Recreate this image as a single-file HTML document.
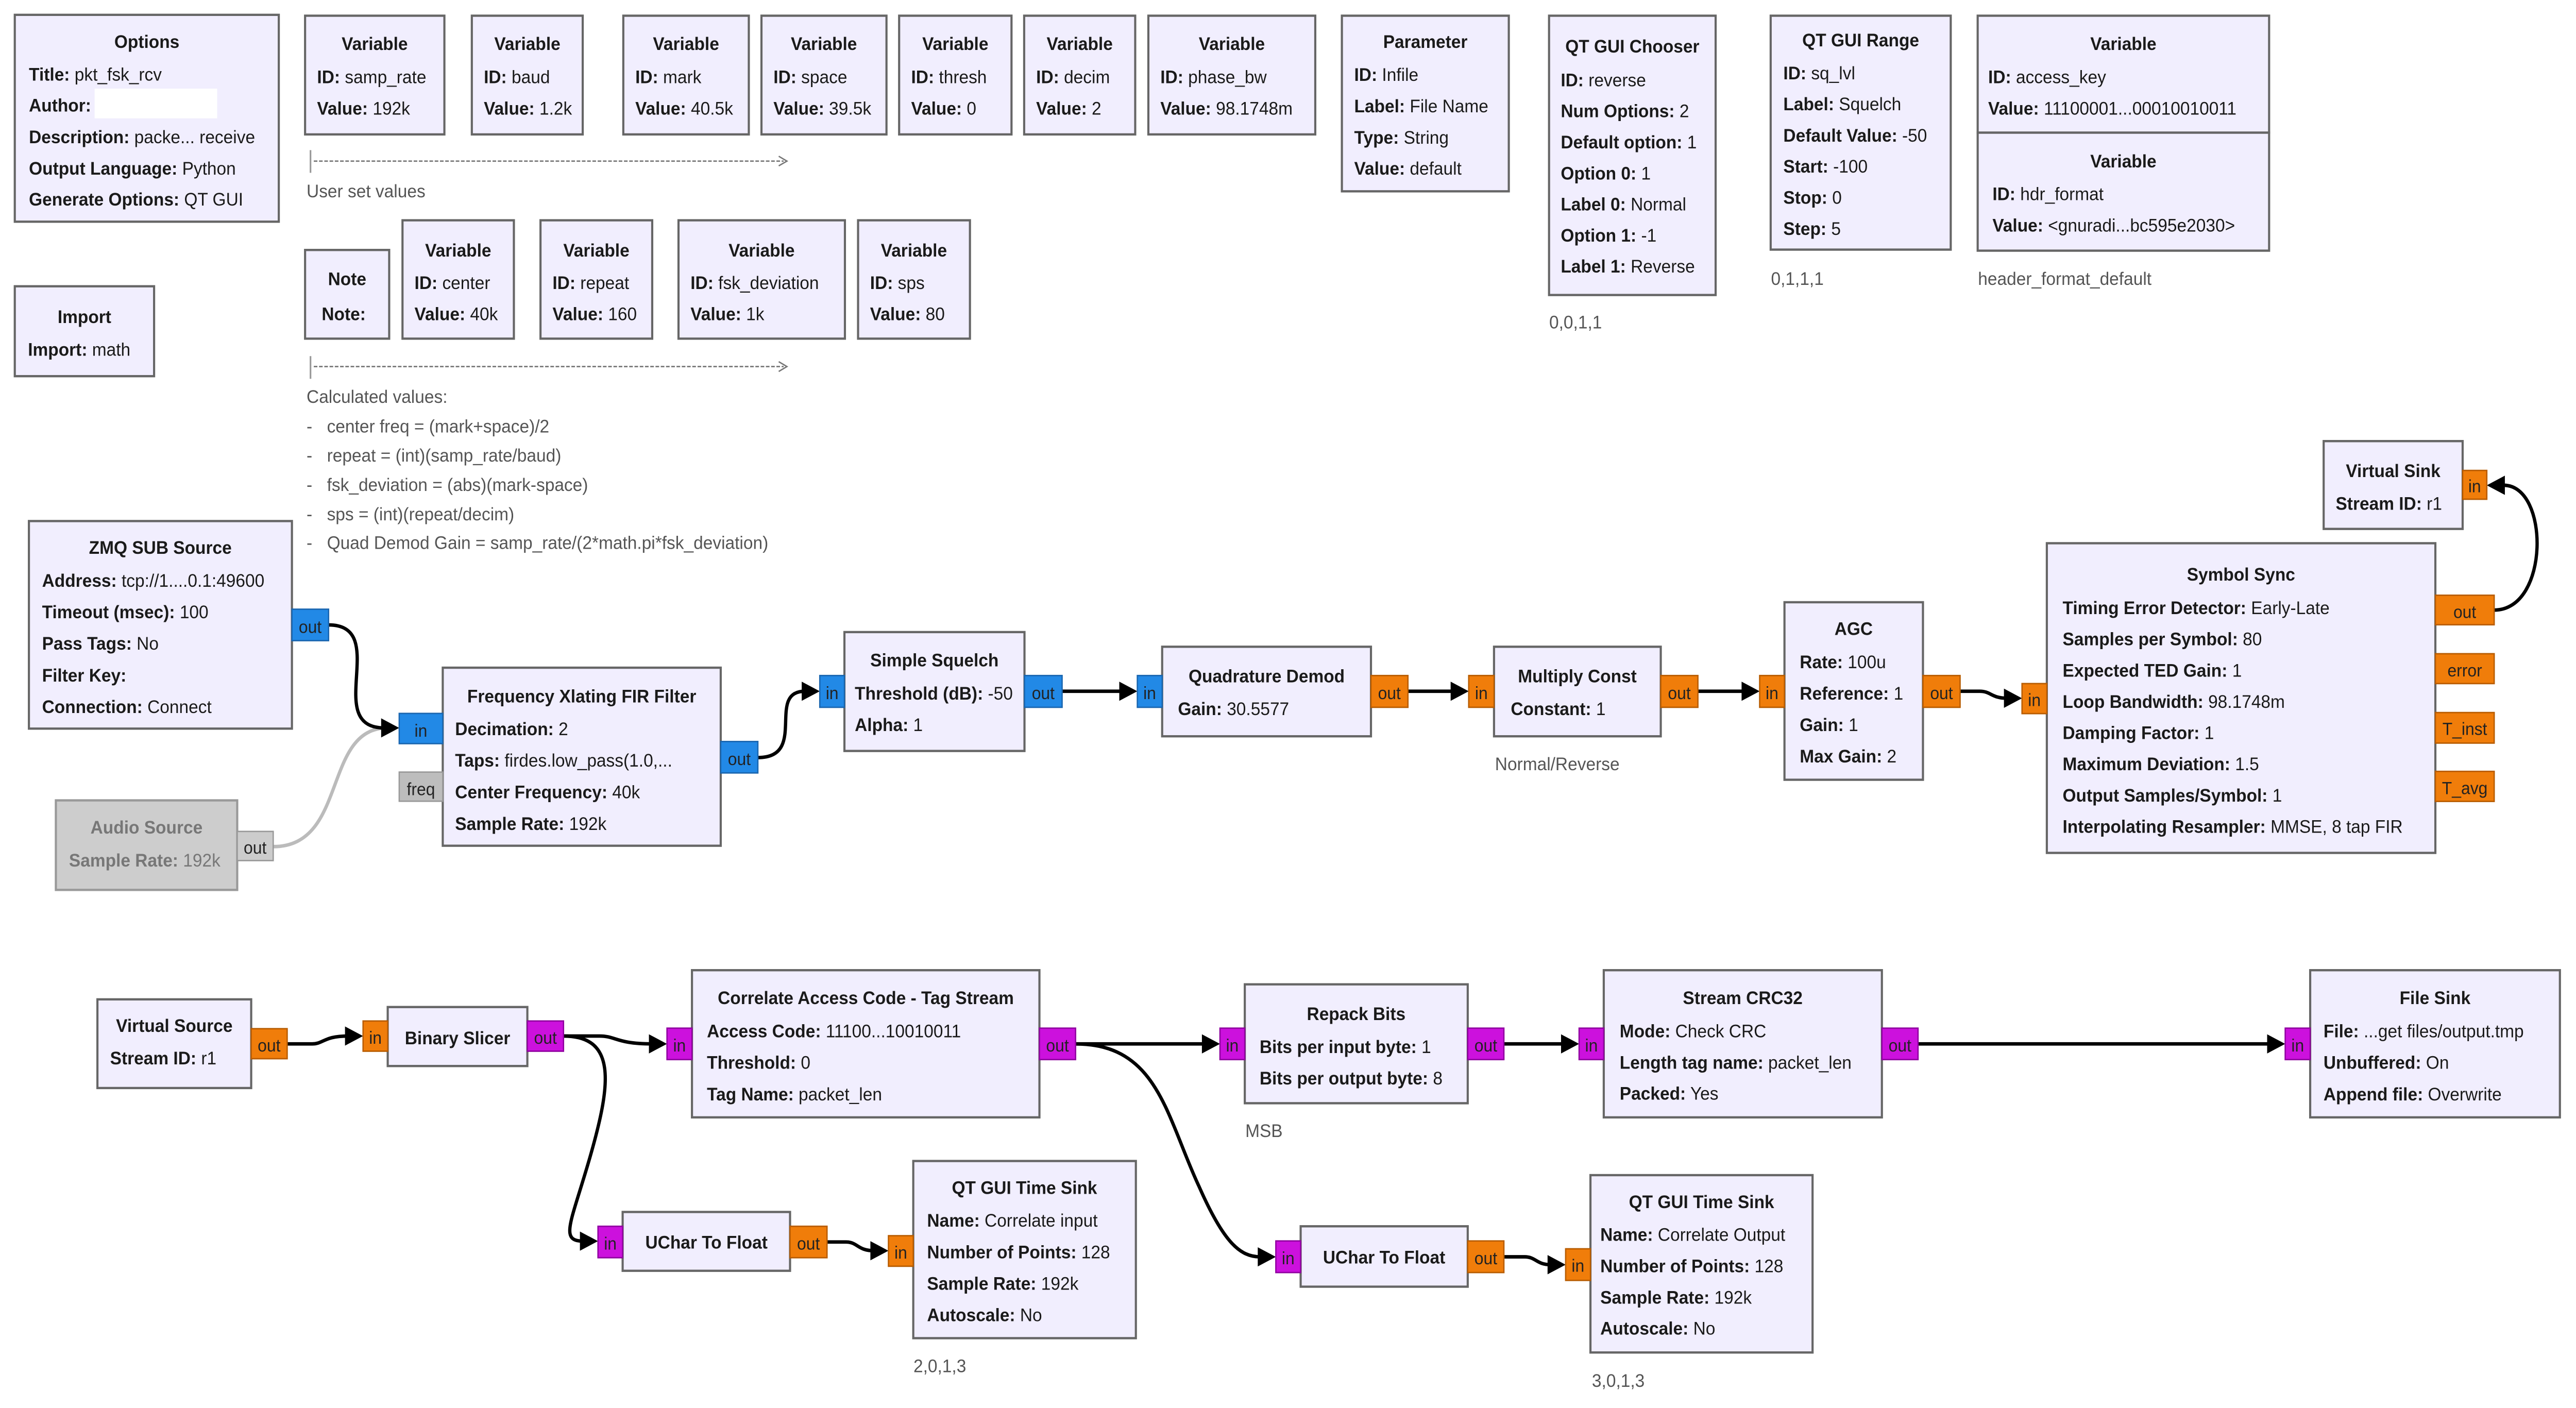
<!DOCTYPE html>
<html><head><meta charset="utf-8"><style>
html,body{margin:0;padding:0;background:#fff;width:100%;height:100%;overflow:hidden;}
svg{display:block;position:absolute;left:0;top:0;width:100vw;height:100vh;}
text{font-family:"Liberation Sans","DejaVu Sans",sans-serif;font-size:10.5px;fill:#1a1a1a;}
.ti{font-weight:bold;text-anchor:middle;}
.b{font-weight:bold;}
.blk{fill:#F1EEFE;stroke:#666;stroke-width:1.3;}
.dis{fill:#CDCDCD;stroke:#999;stroke-width:1.3;}
.g{fill:#777;}
.n{fill:#555;}
.pb{fill:#2289E6;stroke:#1a66b0;stroke-width:0.8;}
.po{fill:#F07D0A;stroke:#b85c00;stroke-width:0.8;}
.pm{fill:#CC11DD;stroke:#9000a0;stroke-width:0.8;}
.pg{fill:#BDBDBD;stroke:#999;stroke-width:0.8;}
.pl{font-size:10px;text-anchor:middle;fill:#222;}
.w{fill:none;stroke:#000;stroke-width:2;}
.wg{fill:none;stroke:#bbb;stroke-width:2;}
</style></head><body>
<svg viewBox="0 0 1568 806.6" preserveAspectRatio="none" xmlns="http://www.w3.org/2000/svg">
<rect x="0" y="0" width="1568" height="806.6" fill="#fff"/>

<!-- Options -->
<rect class="blk" x="9" y="8.5" width="160.7" height="118.5"/>
<text class="ti" x="89.4" y="27.5">Options</text>
<text x="17.6" y="46.2"><tspan class="b">Title:</tspan> pkt_fsk_rcv</text>
<text x="17.6" y="63.9"><tspan class="b">Author:</tspan></text>
<rect x="57.6" y="50.8" width="74.6" height="17" fill="#fff"/>
<text x="17.6" y="82.1"><tspan class="b">Description:</tspan> packe... receive</text>
<text x="17.6" y="100"><tspan class="b">Output Language:</tspan> Python</text>
<text x="17.6" y="117.7"><tspan class="b">Generate Options:</tspan> QT GUI</text>

<!-- Row1 variables -->
<rect class="blk" x="185.7" y="9" width="84.8" height="68"/>
<text class="ti" x="228.1" y="28.6">Variable</text>
<text x="193" y="47.6"><tspan class="b">ID:</tspan> samp_rate</text>
<text x="193" y="65.7"><tspan class="b">Value:</tspan> 192k</text>

<rect class="blk" x="287.2" y="9" width="67.5" height="68"/>
<text class="ti" x="321" y="28.6">Variable</text>
<text x="294.5" y="47.6"><tspan class="b">ID:</tspan> baud</text>
<text x="294.5" y="65.7"><tspan class="b">Value:</tspan> 1.2k</text>

<rect class="blk" x="379.4" y="9" width="76.4" height="68"/>
<text class="ti" x="417.6" y="28.6">Variable</text>
<text x="386.7" y="47.6"><tspan class="b">ID:</tspan> mark</text>
<text x="386.7" y="65.7"><tspan class="b">Value:</tspan> 40.5k</text>

<rect class="blk" x="463.5" y="9" width="76.1" height="68"/>
<text class="ti" x="501.5" y="28.6">Variable</text>
<text x="470.8" y="47.6"><tspan class="b">ID:</tspan> space</text>
<text x="470.8" y="65.7"><tspan class="b">Value:</tspan> 39.5k</text>

<rect class="blk" x="547.3" y="9" width="68.4" height="68"/>
<text class="ti" x="581.5" y="28.6">Variable</text>
<text x="554.6" y="47.6"><tspan class="b">ID:</tspan> thresh</text>
<text x="554.6" y="65.7"><tspan class="b">Value:</tspan> 0</text>

<rect class="blk" x="623.4" y="9" width="67.6" height="68"/>
<text class="ti" x="657.2" y="28.6">Variable</text>
<text x="630.7" y="47.6"><tspan class="b">ID:</tspan> decim</text>
<text x="630.7" y="65.7"><tspan class="b">Value:</tspan> 2</text>

<rect class="blk" x="699" y="9" width="101.6" height="68"/>
<text class="ti" x="749.8" y="28.6">Variable</text>
<text x="706.3" y="47.6"><tspan class="b">ID:</tspan> phase_bw</text>
<text x="706.3" y="65.7"><tspan class="b">Value:</tspan> 98.1748m</text>

<!-- Parameter -->
<rect class="blk" x="816.8" y="9" width="101.6" height="100.6"/>
<text class="ti" x="867.6" y="27.5">Parameter</text>
<text x="824.3" y="46.3"><tspan class="b">ID:</tspan> Infile</text>
<text x="824.3" y="64.4"><tspan class="b">Label:</tspan> File Name</text>
<text x="824.3" y="82.4"><tspan class="b">Type:</tspan> String</text>
<text x="824.3" y="100"><tspan class="b">Value:</tspan> default</text>

<!-- QT GUI Chooser -->
<rect class="blk" x="942.9" y="9" width="101.4" height="160"/>
<text class="ti" x="993.6" y="30.1">QT GUI Chooser</text>
<text x="950" y="49.4"><tspan class="b">ID:</tspan> reverse</text>
<text x="950" y="67.2"><tspan class="b">Num Options:</tspan> 2</text>
<text x="950" y="85"><tspan class="b">Default option:</tspan> 1</text>
<text x="950" y="102.8"><tspan class="b">Option 0:</tspan> 1</text>
<text x="950" y="120.6"><tspan class="b">Label 0:</tspan> Normal</text>
<text x="950" y="138.4"><tspan class="b">Option 1:</tspan> -1</text>
<text x="950" y="156.2"><tspan class="b">Label 1:</tspan> Reverse</text>
<text class="n" x="943" y="188.2">0,0,1,1</text>

<!-- QT GUI Range -->
<rect class="blk" x="1077.8" y="9" width="109.6" height="134"/>
<text class="ti" x="1132.6" y="26.5">QT GUI Range</text>
<text x="1085.5" y="45.4"><tspan class="b">ID:</tspan> sq_lvl</text>
<text x="1085.5" y="63.2"><tspan class="b">Label:</tspan> Squelch</text>
<text x="1085.5" y="81.1"><tspan class="b">Default Value:</tspan> -50</text>
<text x="1085.5" y="98.9"><tspan class="b">Start:</tspan> -100</text>
<text x="1085.5" y="116.7"><tspan class="b">Stop:</tspan> 0</text>
<text x="1085.5" y="134.6"><tspan class="b">Step:</tspan> 5</text>
<text class="n" x="1078" y="163.2">0,1,1,1</text>

<!-- access_key / hdr_format -->
<rect class="blk" x="1203.8" y="9" width="177.4" height="67"/>
<text class="ti" x="1292.5" y="28.6">Variable</text>
<text x="1210.2" y="47.6"><tspan class="b">ID:</tspan> access_key</text>
<text x="1210.2" y="65.7"><tspan class="b">Value:</tspan> 11100001...00010010011</text>
<rect class="blk" x="1203.8" y="76" width="177.4" height="67.6"/>
<text class="ti" x="1292.5" y="95.9">Variable</text>
<text x="1212.8" y="114.7"><tspan class="b">ID:</tspan> hdr_format</text>
<text x="1212.8" y="132.7"><tspan class="b">Value:</tspan> &lt;gnuradi...bc595e2030&gt;</text>
<text class="n" x="1204" y="163.2">header_format_default</text>

<!-- dashed arrows & notes -->
<line x1="189" y1="86" x2="189" y2="99" stroke="#999" stroke-width="1"/>
<line x1="191" y1="92.3" x2="477" y2="92.3" stroke="#777" stroke-width="0.8" stroke-dasharray="2.2,1"/>
<polyline points="474,89.5 479,92.3 474,95" fill="none" stroke="#777" stroke-width="0.8"/>
<text class="n" x="186.6" y="113.1">User set values</text>

<line x1="189" y1="204" x2="189" y2="217" stroke="#999" stroke-width="1"/>
<line x1="191" y1="210" x2="477" y2="210" stroke="#777" stroke-width="0.8" stroke-dasharray="2.2,1"/>
<polyline points="474,207.2 479,210 474,212.8" fill="none" stroke="#777" stroke-width="0.8"/>
<text class="n" x="186.6" y="230.8">Calculated values:</text>
<text class="n" x="186.6" y="247.8">-</text><text class="n" x="199" y="247.8">center freq = (mark+space)/2</text>
<text class="n" x="186.6" y="264.5">-</text><text class="n" x="199" y="264.5">repeat = (int)(samp_rate/baud)</text>
<text class="n" x="186.6" y="281.3">-</text><text class="n" x="199" y="281.3">fsk_deviation = (abs)(mark-space)</text>
<text class="n" x="186.6" y="298.1">-</text><text class="n" x="199" y="298.1">sps = (int)(repeat/decim)</text>
<text class="n" x="186.6" y="314.5">-</text><text class="n" x="199" y="314.5">Quad Demod Gain = samp_rate/(2*math.pi*fsk_deviation)</text>

<!-- Note -->
<rect class="blk" x="185.7" y="143.2" width="51.2" height="50.8"/>
<text class="ti" x="211.3" y="163.3">Note</text>
<text class="b" x="195.8" y="183.4">Note:</text>

<!-- Row2 variables -->
<rect class="blk" x="245" y="126.2" width="67.8" height="67.8"/>
<text class="ti" x="278.9" y="147">Variable</text>
<text x="252.3" y="165.6"><tspan class="b">ID:</tspan> center</text>
<text x="252.3" y="183.4"><tspan class="b">Value:</tspan> 40k</text>

<rect class="blk" x="329" y="126.2" width="68" height="67.8"/>
<text class="ti" x="363" y="147">Variable</text>
<text x="336.3" y="165.6"><tspan class="b">ID:</tspan> repeat</text>
<text x="336.3" y="183.4"><tspan class="b">Value:</tspan> 160</text>

<rect class="blk" x="413" y="126.2" width="101.3" height="67.8"/>
<text class="ti" x="463.6" y="147">Variable</text>
<text x="420.3" y="165.6"><tspan class="b">ID:</tspan> fsk_deviation</text>
<text x="420.3" y="183.4"><tspan class="b">Value:</tspan> 1k</text>

<rect class="blk" x="522.3" y="126.2" width="68.1" height="67.8"/>
<text class="ti" x="556.3" y="147">Variable</text>
<text x="529.6" y="165.6"><tspan class="b">ID:</tspan> sps</text>
<text x="529.6" y="183.4"><tspan class="b">Value:</tspan> 80</text>

<!-- Import -->
<rect class="blk" x="9" y="164" width="84.8" height="51.5"/>
<text class="ti" x="51.4" y="185.1">Import</text>
<text x="17" y="203.8"><tspan class="b">Import:</tspan> math</text>

<!-- ===== WIRES ===== -->
<path class="wg" d="M166.3,485 C 212,485 196,417 236,417"/>
<path class="w" d="M200,358 C 238,358 196,417 234,417"/>
<path class="w" d="M461.3,434 C 492,434 466,396 490,396"/>
<path class="w" d="M646.5,396 L 683,396"/>
<path class="w" d="M857,396 L 885,396"/>
<path class="w" d="M1033.5,396 L 1062,396"/>
<path class="w" d="M1193.1,396 L 1205,396 C 1212,396 1212,400 1222,400"/>
<path class="w" d="M1518.2,349.5 C 1552,349.5 1552,278 1524,278"/>
<path class="w" d="M174.8,598 L 190,598 C 197,598 197,593.5 212,593.5"/>
<path class="w" d="M343,593.5 L 365,593.5 C 375,593.5 375,598 397,598"/>
<path class="w" d="M343,593.5 C 375,593.5 372,620 360,660 C 348,700 340,711 355,711"/>
<path class="w" d="M654.7,598 L 733,598"/>
<path class="w" d="M654.7,598 C 705,598 710,640 730,680 C 745,712 755,720 767,720"/>
<path class="w" d="M915.4,598 L 952,598"/>
<path class="w" d="M1167.5,598 L 1382,598"/>
<path class="w" d="M503.4,711.5 L 515,711.5 C 522,711.5 522,716.5 532,716.5"/>
<path class="w" d="M915,720 L 928,720 C 935,720 935,724.5 944,724.5"/>
<!-- arrowheads -->
<g fill="#000">
<polygon points="243,417 232,411.5 232,422.5"/>
<polygon points="499,396 488,390.5 488,401.5"/>
<polygon points="692.3,396 681.3,390.5 681.3,401.5"/>
<polygon points="894,396 883,390.5 883,401.5"/>
<polygon points="1071.1,396 1060.1,390.5 1060.1,401.5"/>
<polygon points="1230.8,400 1219.8,394.5 1219.8,405.5"/>
<polygon points="1513.7,278 1524.7,272.5 1524.7,283.5"/>
<polygon points="221,593.5 210,588 210,599"/>
<polygon points="406,598 395,592.5 395,603.5"/>
<polygon points="364,711 353,705.5 353,716.5"/>
<polygon points="742.6,598 731.6,592.5 731.6,603.5"/>
<polygon points="776.6,720 765.6,714.5 765.6,725.5"/>
<polygon points="961.2,598 950.2,592.5 950.2,603.5"/>
<polygon points="1391,598 1380,592.5 1380,603.5"/>
<polygon points="540.8,716.5 529.8,711 529.8,722"/>
<polygon points="953,724.5 942,719 942,730"/>
</g>

<!-- ZMQ SUB Source -->
<rect class="blk" x="17.6" y="298.5" width="160.1" height="118.9"/>
<text class="ti" x="97.6" y="317.3">ZMQ SUB Source</text>
<text x="25.6" y="336.2"><tspan class="b">Address:</tspan> tcp://1....0.1:49600</text>
<text x="25.6" y="354.2"><tspan class="b">Timeout (msec):</tspan> 100</text>
<text x="25.6" y="372.2"><tspan class="b">Pass Tags:</tspan> No</text>
<text x="25.6" y="390.4"><tspan class="b">Filter Key:</tspan></text>
<text x="25.6" y="408.4"><tspan class="b">Connection:</tspan> Connect</text>
<rect class="pb" x="177.7" y="349" width="22.3" height="18"/>
<text class="pl" x="188.8" y="362.5">out</text>

<!-- Frequency Xlating FIR Filter -->
<rect class="blk" x="269.5" y="382.5" width="169.2" height="102"/>
<text class="ti" x="354.1" y="402.4">Frequency Xlating FIR Filter</text>
<text x="277" y="421.2"><tspan class="b">Decimation:</tspan> 2</text>
<text x="277" y="439.2"><tspan class="b">Taps:</tspan> firdes.low_pass(1.0,...</text>
<text x="277" y="457.3"><tspan class="b">Center Frequency:</tspan> 40k</text>
<text x="277" y="475.4"><tspan class="b">Sample Rate:</tspan> 192k</text>
<rect class="pb" x="243" y="408.7" width="26.5" height="17.3"/>
<text class="pl" x="256.2" y="422">in</text>
<rect class="pg" x="243" y="442.3" width="26.5" height="16.7"/>
<text class="pl" x="256.2" y="455.5">freq</text>
<rect class="pb" x="438.7" y="424.8" width="22.6" height="18"/>
<text class="pl" x="450" y="438.3">out</text>

<!-- Audio Source (disabled) -->
<rect class="dis" x="34" y="458.5" width="110.4" height="51.3"/>
<text class="ti g" x="89.2" y="477.5">Audio Source</text>
<text class="g" x="42" y="496.4"><tspan class="b">Sample Rate:</tspan> 192k</text>
<rect class="pg" x="144.4" y="476.3" width="21.9" height="16.7" style="fill:#ccc"/>
<text class="pl g" x="155.3" y="489">out</text>

<!-- Simple Squelch -->
<rect class="blk" x="514" y="362.1" width="109.6" height="68.1"/>
<text class="ti" x="568.8" y="381.8">Simple Squelch</text>
<text x="520.3" y="400.8"><tspan class="b">Threshold (dB):</tspan> -50</text>
<text x="520.3" y="418.8"><tspan class="b">Alpha:</tspan> 1</text>
<rect class="pb" x="499" y="387" width="15" height="18.2"/>
<text class="pl" x="506.5" y="400.5">in</text>
<rect class="pb" x="623.6" y="387" width="22.9" height="18.2"/>
<text class="pl" x="635" y="400.5">out</text>

<!-- Quadrature Demod -->
<rect class="blk" x="707.4" y="370.5" width="127.1" height="51.3"/>
<text class="ti" x="771" y="390.9">Quadrature Demod</text>
<text x="717" y="409.6"><tspan class="b">Gain:</tspan> 30.5577</text>
<rect class="pb" x="692.3" y="387" width="15.1" height="18.2"/>
<text class="pl" x="699.8" y="400.5">in</text>
<rect class="po" x="834.5" y="387" width="22.5" height="18.2"/>
<text class="pl" x="845.7" y="400.5">out</text>

<!-- Multiply Const -->
<rect class="blk" x="909.4" y="370.5" width="101.5" height="51.3"/>
<text class="ti" x="960.1" y="390.9">Multiply Const</text>
<text x="919.6" y="409.6"><tspan class="b">Constant:</tspan> 1</text>
<rect class="po" x="894" y="387" width="15.4" height="18.2"/>
<text class="pl" x="901.7" y="400.5">in</text>
<rect class="po" x="1010.9" y="387" width="22.6" height="18.2"/>
<text class="pl" x="1022.2" y="400.5">out</text>
<text class="n" x="910" y="441.2">Normal/Reverse</text>

<!-- AGC -->
<rect class="blk" x="1086.2" y="345" width="84.3" height="101.7"/>
<text class="ti" x="1128.3" y="363.8">AGC</text>
<text x="1095.5" y="382.8"><tspan class="b">Rate:</tspan> 100u</text>
<text x="1095.5" y="400.8"><tspan class="b">Reference:</tspan> 1</text>
<text x="1095.5" y="418.8"><tspan class="b">Gain:</tspan> 1</text>
<text x="1095.5" y="436.8"><tspan class="b">Max Gain:</tspan> 2</text>
<rect class="po" x="1071.1" y="387" width="15.1" height="18.2"/>
<text class="pl" x="1078.6" y="400.5">in</text>
<rect class="po" x="1170.5" y="387" width="22.6" height="18.2"/>
<text class="pl" x="1181.8" y="400.5">out</text>

<!-- Symbol Sync -->
<rect class="blk" x="1245.9" y="311.2" width="236.5" height="177.4"/>
<text class="ti" x="1364.1" y="332.6">Symbol Sync</text>
<text x="1255.5" y="351.8"><tspan class="b">Timing Error Detector:</tspan> Early-Late</text>
<text x="1255.5" y="369.7"><tspan class="b">Samples per Symbol:</tspan> 80</text>
<text x="1255.5" y="387.6"><tspan class="b">Expected TED Gain:</tspan> 1</text>
<text x="1255.5" y="405.5"><tspan class="b">Loop Bandwidth:</tspan> 98.1748m</text>
<text x="1255.5" y="423.4"><tspan class="b">Damping Factor:</tspan> 1</text>
<text x="1255.5" y="441.3"><tspan class="b">Maximum Deviation:</tspan> 1.5</text>
<text x="1255.5" y="459.2"><tspan class="b">Output Samples/Symbol:</tspan> 1</text>
<text x="1255.5" y="477.1"><tspan class="b">Interpolating Resampler:</tspan> MMSE, 8 tap FIR</text>
<rect class="po" x="1230.8" y="391.6" width="15.1" height="17.2"/>
<text class="pl" x="1238.3" y="404.5">in</text>
<rect class="po" x="1482.4" y="341" width="35.8" height="16.9"/>
<text class="pl" x="1500.3" y="354">out</text>
<rect class="po" x="1482.4" y="374.5" width="35.8" height="17.1"/>
<text class="pl" x="1500.3" y="387.5">error</text>
<rect class="po" x="1482.4" y="408.2" width="35.8" height="17.5"/>
<text class="pl" x="1500.3" y="421">T_inst</text>
<rect class="po" x="1482.4" y="441.9" width="35.8" height="17.2"/>
<text class="pl" x="1500.3" y="455">T_avg</text>

<!-- Virtual Sink -->
<rect class="blk" x="1414.4" y="252.7" width="84.6" height="50.3"/>
<text class="ti" x="1456.7" y="273.3">Virtual Sink</text>
<text x="1421.7" y="292.1"><tspan class="b">Stream ID:</tspan> r1</text>
<rect class="po" x="1499" y="269.5" width="14.7" height="16.5"/>
<text class="pl" x="1506.3" y="282">in</text>

<!-- Virtual Source -->
<rect class="blk" x="59.3" y="572.5" width="93.6" height="50.8"/>
<text class="ti" x="106.1" y="591.1">Virtual Source</text>
<text x="67" y="609.8"><tspan class="b">Stream ID:</tspan> r1</text>
<rect class="po" x="152.9" y="589.3" width="21.9" height="17.2"/>
<text class="pl" x="163.8" y="602.3">out</text>

<!-- Binary Slicer -->
<rect class="blk" x="236" y="576.9" width="85" height="33.8"/>
<text class="ti" x="278.5" y="598.2">Binary Slicer</text>
<rect class="po" x="221" y="584.9" width="15" height="17.3"/>
<text class="pl" x="228.5" y="598">in</text>
<rect class="pm" x="321" y="584.9" width="22" height="17.3"/>
<text class="pl" x="332" y="598">out</text>

<!-- Correlate Access Code -->
<rect class="blk" x="421.2" y="555.8" width="211.5" height="84.3"/>
<text class="ti" x="527" y="575.2">Correlate Access Code - Tag Stream</text>
<text x="430.3" y="594.2"><tspan class="b">Access Code:</tspan> 11100...10010011</text>
<text x="430.3" y="612.3"><tspan class="b">Threshold:</tspan> 0</text>
<text x="430.3" y="630.4"><tspan class="b">Tag Name:</tspan> packet_len</text>
<rect class="pm" x="406" y="589" width="15.2" height="18"/>
<text class="pl" x="413.6" y="602.3">in</text>
<rect class="pm" x="632.7" y="589" width="22" height="18"/>
<text class="pl" x="643.7" y="602.3">out</text>

<!-- Repack Bits -->
<rect class="blk" x="757.7" y="563.9" width="135.7" height="68.1"/>
<text class="ti" x="825.5" y="584.3">Repack Bits</text>
<text x="766.7" y="603.3"><tspan class="b">Bits per input byte:</tspan> 1</text>
<text x="766.7" y="621.3"><tspan class="b">Bits per output byte:</tspan> 8</text>
<rect class="pm" x="742.6" y="589" width="15.1" height="18"/>
<text class="pl" x="750.1" y="602.3">in</text>
<rect class="pm" x="893.4" y="589" width="22" height="18"/>
<text class="pl" x="904.4" y="602.3">out</text>
<text class="n" x="758" y="651.4">MSB</text>

<!-- Stream CRC32 -->
<rect class="blk" x="976.2" y="555.8" width="169.3" height="84.3"/>
<text class="ti" x="1060.8" y="575.2">Stream CRC32</text>
<text x="985.9" y="594.2"><tspan class="b">Mode:</tspan> Check CRC</text>
<text x="985.9" y="612.3"><tspan class="b">Length tag name:</tspan> packet_len</text>
<text x="985.9" y="630"><tspan class="b">Packed:</tspan> Yes</text>
<rect class="pm" x="961.2" y="589" width="15" height="18"/>
<text class="pl" x="968.7" y="602.3">in</text>
<rect class="pm" x="1145.5" y="589" width="22" height="18"/>
<text class="pl" x="1156.5" y="602.3">out</text>

<!-- File Sink -->
<rect class="blk" x="1406.2" y="555.8" width="152" height="84.3"/>
<text class="ti" x="1482.2" y="575.2">File Sink</text>
<text x="1414.3" y="594.2"><tspan class="b">File:</tspan> ...get files/output.tmp</text>
<text x="1414.3" y="612.3"><tspan class="b">Unbuffered:</tspan> On</text>
<text x="1414.3" y="630.4"><tspan class="b">Append file:</tspan> Overwrite</text>
<rect class="pm" x="1391" y="589" width="15.2" height="18"/>
<text class="pl" x="1398.6" y="602.3">in</text>

<!-- UChar To Float 1 -->
<rect class="blk" x="379" y="694.3" width="101.9" height="33.7"/>
<text class="ti" x="430" y="715.3">UChar To Float</text>
<rect class="pm" x="364" y="702.5" width="15" height="18"/>
<text class="pl" x="371.5" y="715.8">in</text>
<rect class="po" x="480.9" y="702.5" width="22.5" height="18"/>
<text class="pl" x="492.1" y="715.8">out</text>

<!-- QT GUI Time Sink 1 -->
<rect class="blk" x="555.9" y="665.1" width="135.5" height="101.5"/>
<text class="ti" x="623.6" y="684">QT GUI Time Sink</text>
<text x="564.3" y="702.7"><tspan class="b">Name:</tspan> Correlate input</text>
<text x="564.3" y="720.8"><tspan class="b">Number of Points:</tspan> 128</text>
<text x="564.3" y="738.8"><tspan class="b">Sample Rate:</tspan> 192k</text>
<text x="564.3" y="756.8"><tspan class="b">Autoscale:</tspan> No</text>
<rect class="po" x="540.8" y="707.9" width="15.1" height="17.5"/>
<text class="pl" x="548.3" y="721">in</text>
<text class="n" x="556" y="786.1">2,0,1,3</text>

<!-- UChar To Float 2 -->
<rect class="blk" x="791.7" y="702.5" width="101.7" height="34.6"/>
<text class="ti" x="842.5" y="723.8">UChar To Float</text>
<rect class="pm" x="776.6" y="710.9" width="15.1" height="18.1"/>
<text class="pl" x="784.1" y="724.2">in</text>
<rect class="po" x="893.4" y="710.9" width="22" height="18.1"/>
<text class="pl" x="904.4" y="724.2">out</text>

<!-- QT GUI Time Sink 2 -->
<rect class="blk" x="968.1" y="673.2" width="135.2" height="101.6"/>
<text class="ti" x="1035.7" y="692.1">QT GUI Time Sink</text>
<text x="974.1" y="710.8"><tspan class="b">Name:</tspan> Correlate Output</text>
<text x="974.1" y="728.8"><tspan class="b">Number of Points:</tspan> 128</text>
<text x="974.1" y="746.8"><tspan class="b">Sample Rate:</tspan> 192k</text>
<text x="974.1" y="764.6"><tspan class="b">Autoscale:</tspan> No</text>
<rect class="po" x="953" y="715.4" width="15.1" height="18.1"/>
<text class="pl" x="960.5" y="728.6">in</text>
<text class="n" x="969" y="794.5">3,0,1,3</text>
</svg>
</body></html>
